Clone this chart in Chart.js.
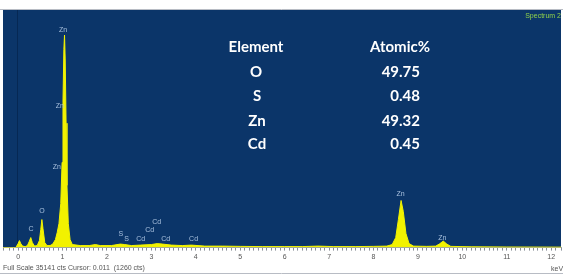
<!DOCTYPE html>
<html>
<head>
<meta charset="utf-8">
<script src="https://cdn.jsdelivr.net/npm/chart.js@4.4.0/dist/chart.umd.min.js"></script>
<style>
  html, body { margin: 0; padding: 0; background: #fff; }
  #wrap { position: relative; width: 563px; height: 275px; overflow: hidden; }
  canvas { position: absolute; left: 0; top: 0; }
  .t { position: absolute; font-family: Lato, "Open Sans", sans-serif; font-weight: bold; color: #fff; font-size: 15px; line-height: 15px; white-space: nowrap; }
  .c { transform: translateX(-50%); }
  .r { transform: translateX(-100%); }
  .small { position: absolute; font-family: "Liberation Sans", Arial, sans-serif; font-size: 7px; line-height: 8px; white-space: nowrap; }
</style>
</head>
<body>
<div id="wrap">
  <canvas id="eds" width="563" height="275"></canvas>
  <div class="t c" style="left:256px; top:39px;">Element</div>
  <div class="t c" style="left:400px; top:39px;">Atomic%</div>
  <div class="t c" style="left:256px; top:64px;">O</div>
  <div class="t c" style="left:257px; top:88px;">S</div>
  <div class="t c" style="left:257px; top:113px;">Zn</div>
  <div class="t c" style="left:257px; top:136px;">Cd</div>
  <div class="t r" style="left:420px; top:64px;">49.75</div>
  <div class="t r" style="left:420px; top:88px;">0.48</div>
  <div class="t r" style="left:420px; top:113px;">49.32</div>
  <div class="t r" style="left:420px; top:136px;">0.45</div>
  <div class="small r" style="left:561px; top:12px; color:#8fd14a;">Spectrum 2</div>
  <div class="small" style="left:3px; top:264px; color:#555;">Full Scale 35141 cts Cursor: 0.011&nbsp;&nbsp;(1260 cts)</div>
  <div class="small" style="left:551px; top:265px; color:#555;">keV</div>
</div>
<script>
// spectrum (energy in keV, counts)
const energies = [
  -0.34, -0.05, 0.00, 0.03, 0.06, 0.10, 0.16, 0.21, 0.25, 0.285, 0.32, 0.37,
  0.43, 0.48, 0.51, 0.535, 0.56, 0.60, 0.65, 0.72, 0.78, 0.84, 0.88, 0.92,
  0.96, 0.99, 1.01, 1.03, 1.045, 1.06, 1.08, 1.10, 1.13, 1.17, 1.22, 1.40,
  1.60, 1.74, 1.85, 2.10, 2.30, 2.40, 2.55, 2.75, 3.00, 3.13, 3.25, 3.45,
  3.70, 3.90, 4.20, 4.60, 5.00, 5.50, 6.00, 6.40, 6.75, 7.10, 7.60, 8.00,
  8.30, 8.42, 8.50, 8.56, 8.62, 8.67, 8.73, 8.80, 8.90, 9.20, 9.40, 9.48,
  9.57, 9.65, 9.74, 10.20, 11.00, 12.22
];
const counts = [
  0, 0, 600, 1040, 600, 220, 150, 300, 890, 1480, 740, 220,
  300, 1040, 2670, 4150, 2820, 740, 300, 300, 520, 1190, 2220, 3560,
  6520, 12600, 21500, 29300, 31440, 27900, 18400, 9200, 3560, 1190, 450, 300,
  300, 450, 300, 300, 520, 450, 300, 370, 450, 590, 520, 370,
  300, 370, 220, 220, 180, 150, 150, 150, 220, 150, 150, 180,
  220, 450, 1480, 4150, 6970, 5340, 2080, 590, 220, 180, 220, 520,
  960, 520, 180, 120, 90, 70
];

// peak markers
const peakNames  = ["Zn", "Zn", "Zn", "O", "C", "S", "S", "Cd", "Cd", "Cd", "Cd", "Cd", "Zn", "Zn"];
const peakKeV    = [1.01, 0.94, 0.87, 0.54, 0.29, 2.31, 2.44, 2.76, 2.96, 3.12, 3.32, 3.95, 8.61, 9.55];
const peakCounts = [32180, 20900, 11860, 5340, 2670, 1930, 1330, 1190, 2520, 3710, 1330, 1330, 7860, 1480];

const fullScale = 35141;

const plotBackground = {
  id: "plotBackground",
  beforeDraw(chart) {
    const { ctx, chartArea: a } = chart;
    ctx.save();
    ctx.fillStyle = "#0b3569";
    ctx.fillRect(a.left, a.top, a.right - a.left, a.bottom - a.top);
    ctx.strokeStyle = "#b8bcc4";
    ctx.lineWidth = 1;
    ctx.beginPath();
    ctx.moveTo(0, a.top - 0.5);
    ctx.lineTo(chart.width, a.top - 0.5);
    ctx.moveTo(0, chart.height - 1.5);
    ctx.lineTo(chart.width, chart.height - 1.5);
    ctx.stroke();
    // zero marker line
    const x0 = chart.scales.x.getPixelForValue(0);
    ctx.strokeStyle = "rgba(0,25,60,0.45)";
    ctx.beginPath();
    ctx.moveTo(Math.round(x0) - 0.5, a.top);
    ctx.lineTo(Math.round(x0) - 0.5, a.bottom);
    ctx.stroke();
    ctx.restore();
  }
};

const peakLabels = {
  id: "peakLabels",
  afterDatasetsDraw(chart) {
    const { ctx, scales } = chart;
    ctx.save();
    ctx.font = "7px 'Liberation Sans', Arial, sans-serif";
    ctx.fillStyle = "#a9c1de";
    ctx.textAlign = "center";
    ctx.textBaseline = "middle";
    peakNames.forEach((name, i) => {
      ctx.fillText(name, scales.x.getPixelForValue(peakKeV[i]), scales.y.getPixelForValue(peakCounts[i]));
    });
    ctx.restore();
  }
};

new Chart(document.getElementById("eds"), {
  type: "line",
  data: {
    datasets: [{
      data: energies.map((e, i) => ({ x: e, y: counts[i] })),
      borderColor: "#f2f200",
      backgroundColor: "#f2f200",
      borderWidth: 1,
      pointRadius: 0,
      fill: "origin",
      tension: 0
    }]
  },
  options: {
    responsive: false,
    animation: false,
    layout: { padding: { left: 3, right: 0, top: 10, bottom: 12 } },
    plugins: { legend: { display: false }, tooltip: { enabled: false } },
    scales: {
      x: {
        type: "linear",
        min: -0.34,
        max: 12.22,
        border: { color: "#9aa0a8" },
        grid: { drawOnChartArea: false, tickLength: 3, color: "#8a9098" },
        ticks: {
          stepSize: 0.1,
          autoSkip: false,
          maxRotation: 0,
          padding: 2,
          color: "#555",
          font: { family: "'Liberation Sans', Arial, sans-serif", size: 7 },
          callback: (v) => (Math.abs(v - Math.round(v)) < 1e-6 ? String(Math.round(v)) : "")
        }
      },
      y: { display: false, min: 0, max: fullScale }
    }
  },
  plugins: [plotBackground, peakLabels]
});
</script>
</body>
</html>
